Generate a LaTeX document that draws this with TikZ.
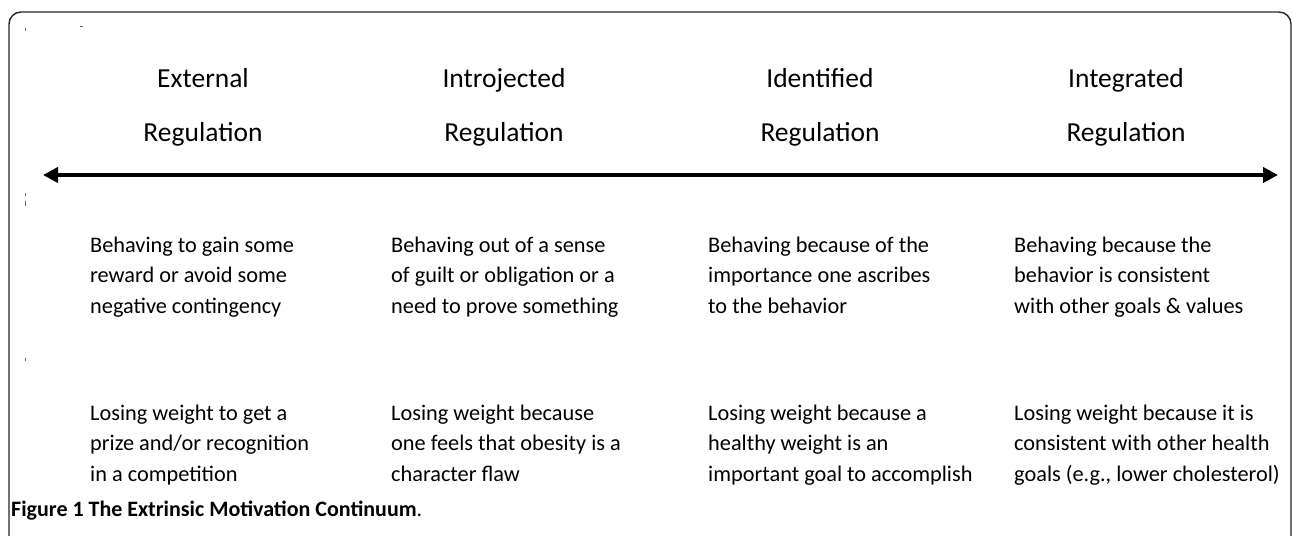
\documentclass[tikz,border=0pt]{standalone}
\usepackage{fontspec}
\setmainfont{Carlito}
\usetikzlibrary{arrows.meta}

\tikzset{
  heading/.style={align=center, anchor=base, inner sep=0pt, font=\fontsize{27.5}{54}\selectfont},
  desc/.style={align=left, anchor=base west, inner sep=0pt, font=\fontsize{22.3}{30.5}\selectfont},
  speck/.style={draw=black!60, line width=0.6pt},
}

\begin{document}
\begin{tikzpicture}[x=1pt, y=-1pt]
		\useasboundingbox (0,0) rectangle (1292,535);
		
		% Frame
		\draw[line width=1.4pt, black!85, rounded corners=12pt] (9,540) -- (9,12) -- (1291,12) -- (1291,540);
		
		% Specks
		\draw[speck] (25.5,28) -- (25.5,31);
		\draw[speck] (80,26.5) -- (83,26.5);
		\draw[speck] (25.5,193) -- (25.5,196);
		\draw[speck] (25.5,201) -- (25.5,206);
		\draw[speck] (25.5,358) -- (25.5,361);
		
		% Headings (base = last line)
		\node[heading] (ext) at (203,141) {External\\Regulation};
		\node[heading] (intro) at (504,141) {Introjected\\Regulation};
		\node[heading] (ident) at (820,141) {Identified\\Regulation};
		\node[heading] (integ) at (1126,141) {Integrated\\Regulation};
		
		% Continuum arrow
		\coordinate (lend) at (43,175);
		\coordinate (rend) at (1278,175);
		\draw[line width=4.2pt, {Triangle[length=15pt,width=15pt]}-{Triangle[length=15pt,width=15pt]}] (lend) -- (rend);
		
		% Descriptions
		\node[desc] (extdesc) at (90,313) {Behaving to gain some\\reward or avoid some\\negative contingency};
		\node[desc] (introdesc) at (391,313) {Behaving out of a sense\\of guilt or obligation or a\\need to prove something};
		\node[desc] (identdesc) at (708,313) {Behaving because of the\\importance one ascribes\\to the behavior};
		\node[desc] (integdesc) at (1014,313) {Behaving because the\\behavior is consistent\\with other goals \& values};
		
		% Examples
		\node[desc] (extex) at (90,481) {Losing weight to get a\\prize and/or recognition\\in a competition};
		\node[desc] (introex) at (391,481) {Losing weight because\\one feels that obesity is a\\character flaw};
		\node[desc] (identex) at (708,481) {Losing weight because a\\healthy weight is an\\important goal to accomplish};
		\node[desc] (integex) at (1014,481) {Losing weight because it is\\consistent with other health\\goals (e.g., lower cholesterol)};
		
		% Caption
		\node[anchor=base west, inner sep=0pt, font=\fontsize{22}{26}\selectfont] (caption) at (11,516) {\textbf{Figure 1 The Extrinsic Motivation Continuum}.};
\end{tikzpicture}
\end{document}
